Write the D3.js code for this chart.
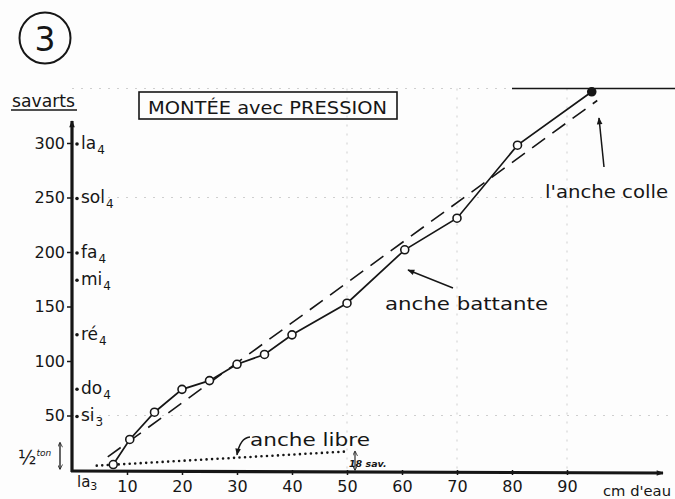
<!DOCTYPE html>
<html>
<head>
<meta charset="utf-8">
<script src="https://cdn.jsdelivr.net/npm/d3@7"></script>
<style>
  html, body { margin: 0; padding: 0; background: #fdfdfd; }
  svg { display: block; font-family: "DejaVu Sans", sans-serif; }
</style>
</head>
<body>
<svg class="js-render-chart" width="675" height="499"></svg>
<script>
"use strict";

//data

const pressure = [7.5, 10.5, 15, 20, 25, 30, 35, 40, 50, 60.5, 70, 81, 94.5];
const battante = [5, 28, 53, 74, 82, 97, 106, 124, 153, 202, 231, 298, 347];

const trendPressure = [6.5, 95.5];
const trendSavarts = [12, 339];

const librePressure = [4.5, 50];
const libreSavarts = [4, 17];

const xTicks = [10, 20, 30, 40, 50, 60, 70, 80, 90];
const yTicks = [50, 100, 150, 200, 250, 300];

const notes = ["si", "do", "ré", "mi", "fa", "sol", "la"];
const noteOctaves = [3, 4, 4, 4, 4, 4, 4];
const noteSavarts = [50, 75, 125, 175, 200, 250, 300];

const gridX = [50, 70, 90];
const gridY = [50, 250, 350];

//params

const svg = d3.select(".js-render-chart");

const x = d3.scaleLinear().domain([0, 100]).range([72, 622]);
const y = d3.scaleLinear().domain([0, 350]).range([470, 88.5]);

const ink = "#161616";

//markers

const defs = svg.append("defs");

defs.append("marker")
  .attr("id", "arrow")
  .attr("viewBox", "0 0 10 10")
  .attr("refX", 9)
  .attr("refY", 5)
  .attr("markerWidth", 9)
  .attr("markerHeight", 7)
  .attr("markerUnits", "userSpaceOnUse")
  .attr("orient", "auto-start-reverse")
  .append("path")
  .attr("d", "M0,1 L10,5 L0,9 z")
  .attr("fill", ink);

defs.append("marker")
  .attr("id", "arrow-small")
  .attr("viewBox", "0 0 10 10")
  .attr("refX", 9)
  .attr("refY", 5)
  .attr("markerWidth", 6)
  .attr("markerHeight", 5)
  .attr("markerUnits", "userSpaceOnUse")
  .attr("orient", "auto-start-reverse")
  .append("path")
  .attr("d", "M0,0 L10,5 L0,10")
  .attr("fill", "none")
  .attr("stroke", ink)
  .attr("stroke-width", 1.5);

//grid (faint graph paper)

const grid = svg.append("g")
  .attr("stroke", "#cfcfcf")
  .attr("stroke-width", 1)
  .attr("stroke-dasharray", "2 7");

grid.selectAll(".gx")
  .data(gridX)
  .enter()
  .append("line")
  .attr("x1", (d) => x(d))
  .attr("x2", (d) => x(d))
  .attr("y1", y(350))
  .attr("y2", y(0));

grid.selectAll(".gy")
  .data(gridY)
  .enter()
  .append("line")
  .attr("x1", x(0))
  .attr("x2", x(110))
  .attr("y1", (d) => y(d))
  .attr("y2", (d) => y(d));

//plateau where the reed sticks

svg.append("line")
  .attr("x1", x(80))
  .attr("x2", x(110))
  .attr("y1", y(350))
  .attr("y2", y(350))
  .attr("stroke", ink)
  .attr("stroke-width", 1.6);

//axes

const xAxis = svg.append("g")
  .attr("transform", `translate(0,${y(0)})`)
  .call(d3.axisBottom(x).tickValues(xTicks).tickSize(5).tickPadding(6));

const yAxis = svg.append("g")
  .attr("transform", `translate(${x(0)},0)`)
  .call(d3.axisLeft(y).tickValues(yTicks).tickSize(5).tickPadding(2));

[xAxis, yAxis].forEach((g) => {

  g.attr("font-family", null).attr("font-size", null);
  g.select(".domain").remove();
  g.selectAll(".tick line").attr("stroke", ink).attr("stroke-width", 1.5);
  g.selectAll(".tick text").attr("fill", ink).attr("font-size", 16);

});

svg.append("line")
  .attr("x1", x(0) - 1)
  .attr("x2", 663)
  .attr("y1", y(0) + 1)
  .attr("y2", y(0) + 3)
  .attr("stroke", ink)
  .attr("stroke-width", 3.2)
  .attr("marker-end", "url(#arrow)");

svg.append("line")
  .attr("x1", x(0))
  .attr("x2", x(0))
  .attr("y1", y(0) + 2)
  .attr("y2", 121)
  .attr("stroke", ink)
  .attr("stroke-width", 3.2)
  .attr("marker-end", "url(#arrow)");

//note names on the savart axis

const noteLabel = svg.append("g")
  .attr("fill", ink)
  .attr("font-size", 17)
  .selectAll("g")
  .data(notes)
  .enter()
  .append("g")
  .attr("transform", (d, i) => `translate(${x(0) + 4},${y(noteSavarts[i])})`);

noteLabel.append("circle")
  .attr("cx", 1)
  .attr("cy", 1)
  .attr("r", 1.8);

noteLabel.append("text")
  .attr("x", 5)
  .attr("dy", "0.35em")
  .text((d) => d)
  .append("tspan")
  .attr("font-size", 12)
  .attr("dx", 1)
  .attr("dy", 5)
  .text((d, i) => noteOctaves[i]);

//series

const line = d3.line()
  .x((d) => x(d[0]))
  .y((d) => y(d[1]));

svg.append("path")
  .datum(d3.zip(librePressure, libreSavarts))
  .attr("d", line)
  .attr("fill", "none")
  .attr("stroke", ink)
  .attr("stroke-width", 2.6)
  .attr("stroke-linecap", "round")
  .attr("stroke-dasharray", "0 5.5");

svg.append("path")
  .datum(d3.zip(trendPressure, trendSavarts))
  .attr("d", line)
  .attr("fill", "none")
  .attr("stroke", ink)
  .attr("stroke-width", 1.6)
  .attr("stroke-dasharray", "16 9");

svg.append("path")
  .datum(d3.zip(pressure, battante))
  .attr("d", line)
  .attr("fill", "none")
  .attr("stroke", ink)
  .attr("stroke-width", 1.7);

svg.append("g")
  .selectAll("circle")
  .data(d3.zip(pressure, battante))
  .enter()
  .append("circle")
  .attr("cx", (d) => x(d[0]))
  .attr("cy", (d) => y(d[1]))
  .attr("r", 4)
  .attr("fill", (d, i) => i === pressure.length - 1 ? ink : "#fdfdfd")
  .attr("stroke", ink)
  .attr("stroke-width", 1.6);

//labels

const label = (tx, ty, str, size, len) => {

  const t = svg.append("text")
    .attr("x", tx)
    .attr("y", ty)
    .attr("fill", ink)
    .attr("font-size", size)
    .text(str);

  if (len) t.attr("textLength", len).attr("lengthAdjust", "spacingAndGlyphs");

  return t;

};

//figure number

svg.append("circle")
  .attr("cx", 45)
  .attr("cy", 38)
  .attr("r", 25.5)
  .attr("fill", "none")
  .attr("stroke", ink)
  .attr("stroke-width", 2);

label(45, 51, "3", 33).attr("text-anchor", "middle");

//title

svg.append("rect")
  .attr("x", 139)
  .attr("y", 92)
  .attr("width", 258)
  .attr("height", 27)
  .attr("fill", "none")
  .attr("stroke", ink)
  .attr("stroke-width", 1.6);

label(148, 114, "MONTÉE avec PRESSION", 18.5, 239);

//axis titles

label(12, 107, "savarts", 17, 63);

svg.append("line")
  .attr("x1", 11)
  .attr("x2", 77)
  .attr("y1", 110)
  .attr("y2", 110)
  .attr("stroke", ink)
  .attr("stroke-width", 1.4);

label(603, 496, "cm d'eau", 14, 68);

const la3 = label(77, 487, "la", 15);
la3.append("tspan").attr("font-size", 11).attr("dy", 3).text("3");

//half tone

const half = label(18, 464, "½", 19);
half.append("tspan").attr("font-size", 9).attr("font-style", "italic").attr("dy", -8).text("ton");

svg.append("line")
  .attr("x1", 60)
  .attr("x2", 60)
  .attr("y1", y(0) - 1)
  .attr("y2", y(25))
  .attr("stroke", ink)
  .attr("stroke-width", 1.3)
  .attr("marker-start", "url(#arrow-small)")
  .attr("marker-end", "url(#arrow-small)");

//annotations

label(545, 198, "l'anche colle", 18, 123);

svg.append("line")
  .attr("x1", 604)
  .attr("y1", 167)
  .attr("x2", 599)
  .attr("y2", 118)
  .attr("stroke", ink)
  .attr("stroke-width", 1.5)
  .attr("marker-end", "url(#arrow)");

label(385, 310, "anche battante", 18, 163);

svg.append("line")
  .attr("x1", 453)
  .attr("y1", 288)
  .attr("x2", 408)
  .attr("y2", 270)
  .attr("stroke", ink)
  .attr("stroke-width", 1.5)
  .attr("marker-end", "url(#arrow)");

label(250, 446, "anche libre", 18, 120);

svg.append("path")
  .attr("d", `M250,437 Q240,438 ${x(30)},${y(libreSavarts[0] + 8) - 2}`)
  .attr("fill", "none")
  .attr("stroke", ink)
  .attr("stroke-width", 1.5)
  .attr("marker-end", "url(#arrow)");

label(349, 467, "18 sav.", 9.5)
  .attr("font-weight", "bold")
  .attr("font-style", "italic");

svg.append("line")
  .attr("x1", 355)
  .attr("x2", 355)
  .attr("y1", y(libreSavarts[1]))
  .attr("y2", y(0))
  .attr("stroke", ink)
  .attr("stroke-width", 1.1)
  .attr("marker-start", "url(#arrow-small)")
  .attr("marker-end", "url(#arrow-small)");

</script>
</body>
</html>
